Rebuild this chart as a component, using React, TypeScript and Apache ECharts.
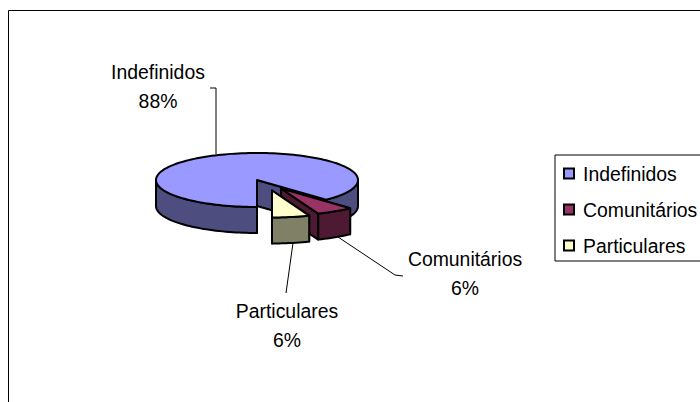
import React, { useEffect, useRef } from "react";
import * as echarts from "echarts";

const categories = ["Indefinidos", "Comunitários", "Particulares"];
const shareValues = [88, 6, 6];

const topColors = ["#9999FF", "#993366", "#FFFFCC"];
const sideColors = ["#4D4D80", "#4D1933", "#808066"];
const FONT = '"Liberation Sans", Arial, sans-serif';
const FONT_SIZE = 19.4;

// layout of the tilted pie
const RX = 101;
const RY = 27;
const DEPTH = 26;
const START_DEG = 90;
const apexes = [
  [257, 180],
  [281, 188.5],
  [272, 190.5],
];
const labelSpots = [
  [158, 72],
  [465, 259],
  [287, 311],
];
const leaders = [
  [[210, 88], [216, 88], [216, 154]],
  [[403, 276], [395, 275], [338, 237]],
  [[293, 243], [286, 293]],
];

const total = shareValues.reduce((a, b) => a + b, 0);

function sliceAngles(index: number) {
  let cum = 0;
  for (let i = 0; i < index; i++) cum += shareValues[i];
  const a0 = START_DEG + (cum / total) * 360;
  return [a0, a0 + (shareValues[index] / total) * 360];
}

function rimPoint(c: number[], deg: number, dy = 0) {
  const t = (deg * Math.PI) / 180;
  return [c[0] + RX * Math.cos(t), c[1] + RY * Math.sin(t) + dy];
}

function arcPoints(c: number[], from: number, to: number, dy = 0) {
  const n = Math.max(2, Math.ceil((to - from) / 2));
  const pts: number[][] = [];
  for (let i = 0; i <= n; i++) pts.push(rimPoint(c, from + ((to - from) * i) / n, dy));
  return pts;
}

function frontRanges(from: number, to: number) {
  const ranges: number[][] = [];
  for (const k of [-360, 0, 360]) {
    const lo = Math.max(from, k);
    const hi = Math.min(to, k + 180);
    if (hi > lo) ranges.push([lo, hi]);
  }
  return ranges;
}

function makeRenderItem(index: number) {
  return (_params: any, api: any) => {
    const value = api.value(0);
    const [a0, a1] = sliceAngles(index);
    const c = apexes[index];
    const base = { stroke: "#000", lineWidth: 2, lineJoin: "round" };
    const children: any[] = [];
    const poly = (points: number[][], fill: string) =>
      children.push({ type: "polygon", shape: { points }, style: { ...base, fill } });

    for (const deg of [a0, a1]) {
      const p = rimPoint(c, deg);
      poly([c, p, [p[0], p[1] + DEPTH], [c[0], c[1] + DEPTH]], sideColors[index]);
    }
    for (const [lo, hi] of frontRanges(a0, a1)) {
      poly(
        [...arcPoints(c, lo, hi), ...arcPoints(c, lo, hi, DEPTH).reverse()],
        sideColors[index]
      );
    }
    poly([c, ...arcPoints(c, a0, a1)], topColors[index]);

    children.push({
      type: "polyline",
      shape: { points: leaders[index] },
      style: { stroke: "#000", lineWidth: 1, fill: "none" },
    });
    const [lx, ly] = labelSpots[index];
    [categories[index], `${Math.round((value / total) * 100)}%`].forEach((text, i) =>
      children.push({
        type: "text",
        style: {
          text,
          x: lx,
          y: ly + i * 28.5,
          fill: "#000",
          font: `${FONT_SIZE}px ${FONT}`,
          align: "center",
          verticalAlign: "middle",
        },
      })
    );
    return { type: "group", children };
  };
}

export default function App() {
  const ref = useRef<HTMLDivElement>(null);
  useEffect(() => {
    document.body.style.margin = "0";
    const chart = echarts.init(ref.current!, null, { renderer: "svg" });
    chart.setOption({
      animation: false,
      backgroundColor: "#fff",
      graphic: [
        {
          type: "rect",
          z: -1,
          shape: { x: 8.5, y: 10.5, width: 900, height: 600 },
          style: { fill: "#fff", stroke: "#000", lineWidth: 1 },
        },
      ],
      legend: {
        left: 555,
        top: 155,
        orient: "vertical",
        icon: "rect",
        itemWidth: 10,
        itemHeight: 10,
        itemGap: 17,
        padding: [9, 24, 6, 8],
        borderColor: "#000",
        borderWidth: 1,
        backgroundColor: "#fff",
        textStyle: { fontFamily: FONT, fontSize: FONT_SIZE, color: "#000", padding: [0, 0, 0, 4] },
        data: categories,
      },
      series: categories.map((name, i) => ({
        type: "custom",
        name,
        coordinateSystem: "none",
        silent: true,
        itemStyle: { color: topColors[i], borderColor: "#000", borderWidth: 1.5 },
        data: [[shareValues[i]]],
        renderItem: makeRenderItem(i),
      })),
    });
    return () => chart.dispose();
  }, []);
  return <div ref={ref} style={{ width: 700, height: 402 }} />;
}
